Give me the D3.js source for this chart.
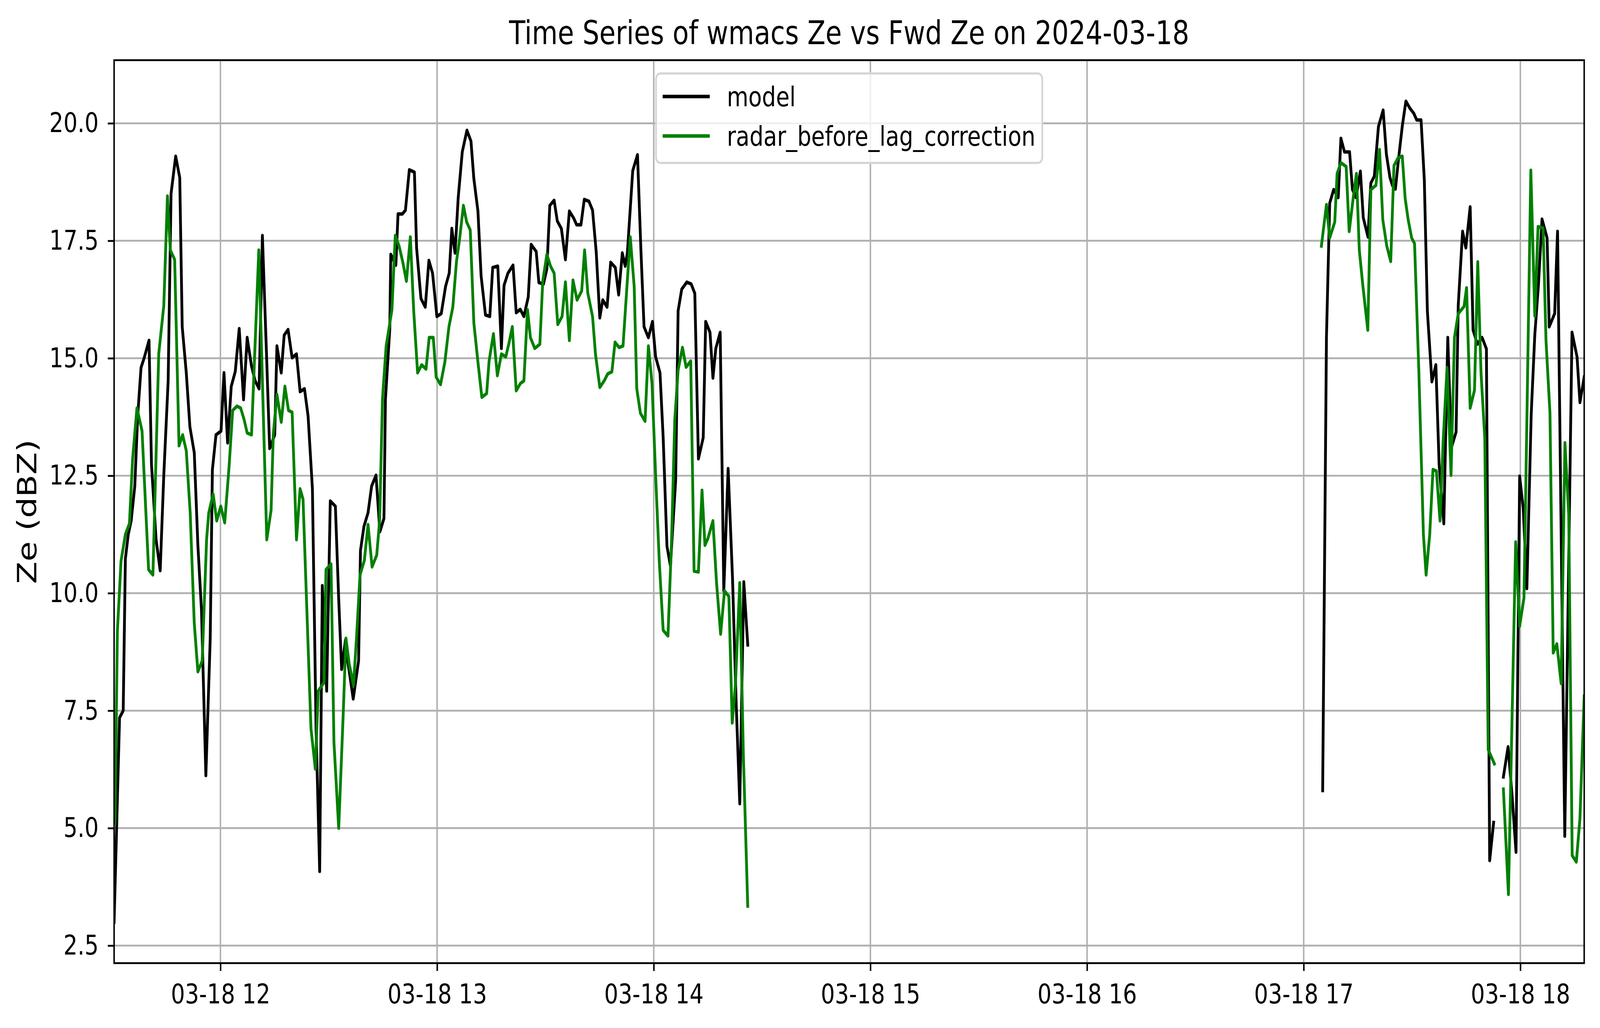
<!DOCTYPE html>
<html>
<head>
<meta charset="utf-8">
<script src="https://cdn.jsdelivr.net/npm/d3@7"></script>
<style>
  html, body { margin: 0; padding: 0; background: #fff; overflow: hidden; width: 100%; height: 100%; }
  #graf { width: 100vw; height: 100vh; }
  #graf svg { display: block; width: 100%; height: 100%; }
  text { font-family: 'DejaVu Sans', sans-serif; fill: #000; }
</style>
</head>
<body>
<div id="graf"></div>
<script>
// I. Datos (minutos desde las 12:00 del 2024-03-18, Ze en dBZ; null = hueco)
const modelMin = [
  -29.45, -27.94, -26.93, -26.33, -25.53, -24.72, -23.72, -22.92, -21.99, -21.11,
  -19.78, -19.1, -17.82, -16.69, -15.69, -14.48, -13.68, -12.4, -11.27, -10.59,
  -9.46, -8.46, -7.25, -6.25, -5.25, -4.04, -2.84, -2.23, -1.23, 0.17,
  0.98, 1.98, 2.99, 4.11, 5.2, 6.4, 7.4, 8.61, 9.61, 10.7,
  11.62, 12.83, 13.63, 15.03, 15.64, 16.84, 17.65, 18.73, 19.85, 21.06,
  22.06, 23.27, 24.27, 25.47, 26.48, 27.48, 28.21, 29.42, 30.42, 31.83,
  32.75, 33.56, 34.64, 35.24, 36.77, 38.26, 38.78, 39.74, 40.87, 41.87,
  43.08, 44.16, 45.28, 45.69, 46.89, 47.17, 48.58, 49.18, 50.38, 51.23,
  52.31, 53.72, 54.32, 55.53, 56.73, 57.73, 58.74, 59.94, 61.15, 62.35,
  63.36, 64.08, 64.96, 65.85, 66.97, 68.26, 69.38, 70.18, 71.31, 72.19,
  73.4, 74.6, 75.4, 76.81, 77.81, 78.54, 79.62, 81.03, 81.91, 83.04,
  84.04, 85.24, 86.05, 87.45, 88.18, 89.46, 90.4, 91.21, 92.41, 93.29,
  94.42, 95.54, 96.63, 97.83, 98.64, 99.84, 100.76, 102.05, 103.05, 104.06,
  105.06, 105.87, 107.07, 108.07, 109.36, 110.28, 111.29, 112.09, 112.69, 114.18,
  115.5, 116.43, 117.31, 118.52, 119.64, 120.52, 121.73, 122.61, 123.66, 124.62,
  126.07, 126.75, 127.75, 129.16, 130.36, 131.37, 132.37, 133.7, 134.38, 135.58,
  136.39, 137.19, 138.4, 139.4, 140.6, 141.81, 142.81, 143.82, 144.94, 146.03,
  200,
  305.25, 306.3, 307.2, 308.3, 309.56, 310.3, 311.3, 312.7, 313.5, 314.5,
  315.7, 316.5, 317.8, 318.6, 319.55, 320.7, 322.0, 322.9, 323.9, 324.6,
  325.4, 326.2, 327.3, 328.3, 329.4, 330.5, 331.3, 332.5, 333.4, 334.25,
  335.5, 336.6, 337.5, 338.8, 339.9, 340.9, 342.2, 342.8, 344.0, 344.9,
  346.1, 346.9, 348.1, 349.4, 350.6, 351.5, 352.6,
  354,
  355.3, 356.6, 357.7, 358.8, 359.8, 360.8, 361.8, 363.0, 364.0, 365.0,
  366.0, 367.4, 368.0, 369.5, 370.3, 372.3, 374.3, 375.7, 376.5, 377.68
]
const modelZe = [
  3.0, 7.35, 7.5, 10.73, 11.25, 11.54, 12.28, 13.77, 14.8, 15.01,
  15.38, 12.74, 11.14, 10.48, 12.51, 14.52, 18.5, 19.3, 18.84, 15.67,
  14.69, 13.54, 12.99, 11.02, 9.64, 6.12, 9.01, 12.63, 13.37, 13.45,
  14.69, 13.2, 14.4, 14.72, 15.63, 14.12, 15.44, 14.83, 14.52, 14.35,
  17.61, 14.92, 13.08, 13.37, 15.26, 14.69, 15.49, 15.61, 15.01, 15.09,
  14.29, 14.35, 13.77, 12.22, 7.12, 4.08, 10.16, 7.92, 11.96, 11.85,
  9.87, 8.38, 9.01, 8.56, 7.75, 8.56, 10.91, 11.42, 11.71, 12.28,
  12.51, 11.31, 11.59, 14.12, 15.61, 17.21, 16.98, 18.07, 18.07, 18.15,
  19.01, 18.96, 17.35, 16.27, 16.09, 17.08, 16.81, 15.89, 15.95, 16.53,
  16.81, 17.76, 17.24, 18.42, 19.39, 19.85, 19.62, 18.82, 18.13, 16.75,
  15.92, 15.89, 16.93, 16.96, 15.21, 16.55, 16.81, 16.98, 15.97, 16.04,
  15.89, 16.3, 17.42, 17.27, 16.61, 16.58, 16.9, 18.25, 18.36, 17.92,
  17.76, 17.1, 18.13, 17.98, 17.84, 17.84, 18.38, 18.34, 18.15, 17.27,
  15.86, 16.24, 16.09, 17.04, 16.93, 16.35, 17.24, 16.96, 17.24, 18.99,
  19.33, 17.33, 15.67, 15.44, 15.78, 15.03, 14.69, 13.31, 11.0, 10.58,
  12.4, 16.01, 16.47, 16.62, 16.58, 16.38, 12.86, 13.31, 15.78, 15.55,
  14.58, 15.21, 15.55, 10.05, 12.65, 10.33, 7.7, 5.52, 10.24, 8.9,
  null,
  5.8, 15.44, 18.3, 18.59, 18.42, 19.68, 19.39, 19.39, 18.59, 18.42,
  18.98, 17.99, 17.58, 18.73, 18.87, 19.93, 20.28, 19.34, 18.84, 18.67,
  18.6, 19.2, 19.94, 20.47, 20.32, 20.21, 20.07, 20.07, 18.8, 16.0,
  14.5, 14.86, 12.74, 11.48, 15.44, 13.1, 13.43, 16.13, 17.7, 17.35,
  18.22, 15.6, 15.3, 15.44, 15.2, 4.31, 5.12,
  null,
  6.09, 6.73, 5.7, 4.49, 12.49, 11.8, 10.1, 13.8, 15.5, 16.55,
  17.96, 17.56, 15.67, 15.95, 17.7, 4.83, 15.55, 15.03, 14.06, 14.6
]

const radarMin = [
  -29.2, -28.54, -27.54, -26.33, -25.21, -24.32, -23.12, -21.71, -19.9, -18.7,
  -17.09, -15.69, -14.68, -13.88, -12.68, -11.47, -10.47, -9.46, -8.38, -7.25,
  -6.25, -5.05, -3.84, -3.24, -2.03, -1.03, 0.09, 1.18, 2.38, 3.39,
  4.59, 5.6, 6.6, 7.4, 8.61, 10.62, 12.83, 14.03, 14.63, 15.64,
  16.84, 17.85, 18.85, 19.85, 21.06, 22.06, 22.87, 25.07, 26.28, 27.08,
  28.69, 29.22, 30.63, 31.43, 32.75, 33.96, 34.76, 35.65, 36.85, 37.65,
  38.66, 39.86, 40.87, 41.99, 43.28, 44.08, 44.88, 45.89, 47.49, 48.42,
  49.5, 50.51, 51.51, 52.59, 53.52, 54.6, 55.73, 56.93, 57.81, 58.94,
  59.74, 60.95, 62.15, 63.28, 64.36, 65.37, 66.17, 67.29, 68.18, 69.18,
  70.18, 71.31, 72.39, 73.72, 74.4, 75.6, 76.69, 77.81, 79.02, 79.9,
  80.83, 81.91, 83.04, 84.04, 85.04, 85.85, 87.05, 88.46, 89.26, 90.4,
  91.41, 92.41, 93.42, 94.62, 95.54, 96.63, 97.63, 98.76, 100.04, 100.85,
  101.73, 103.05, 103.86, 105.06, 106.27, 107.27, 108.4, 109.28, 110.4, 111.49,
  112.49, 113.5, 114.58, 115.3, 116.31, 117.59, 118.52, 119.52, 120.52, 121.53,
  122.61, 123.94, 124.94, 125.82, 126.75, 127.95, 128.96, 130.24, 131.17, 132.37,
  133.37, 134.18, 134.98, 136.39, 137.39, 138.52, 139.6, 140.8, 141.73, 142.61,
  143.82, 144.82, 146.03,
  200,
  304.9, 306.3, 307.2, 308.6, 309.25, 310.3, 311.75, 312.6, 313.8, 314.6,
  315.4, 316.4, 317.75, 318.6, 320.0, 321.0, 321.9, 323.0, 324.1, 325.0,
  326.1, 327.3, 328.1, 328.95, 329.9, 330.7, 331.1, 331.9, 333.15, 333.9,
  334.9, 335.8, 336.75, 337.75, 338.6, 339.7, 340.8, 341.75, 342.8, 344.4,
  345.1, 346.1, 347.3, 348.2, 349.1, 350.15, 351.1, 352.8,
  354,
  355.3, 356.7, 358.7, 359.8, 361.0, 361.8, 362.9, 364.0, 364.9, 366.3,
  367.1, 368.2, 369.1, 370.1, 371.3, 372.35, 373.4, 374.35, 375.5, 376.5,
  377.68
]
const radarZe = [
  5.11, 9.19, 10.68, 11.25, 11.48, 12.86, 13.94, 13.45, 10.5, 10.39,
  15.09, 16.12, 18.45, 17.3, 17.1, 13.14, 13.37, 13.03, 11.71, 9.36,
  8.33, 8.56, 11.14, 11.71, 12.11, 11.54, 11.85, 11.5, 12.68, 13.89,
  13.98, 13.94, 13.68, 13.41, 13.37, 17.3, 11.14, 11.77, 13.37, 14.23,
  13.64, 14.4, 13.89, 13.85, 11.14, 12.22, 12.0, 7.12, 6.26, 7.92,
  8.1, 10.5, 10.62, 6.83, 5.0, 7.35, 9.04, 8.5, 8.04, 9.01,
  10.39, 10.7, 11.46, 10.56, 10.81, 11.54, 14.14, 15.26, 16.03, 17.61,
  17.38, 17.04, 16.64, 17.58, 16.01, 14.69, 14.86, 14.77, 15.44, 15.44,
  14.6, 14.44, 14.92, 15.67, 16.09, 17.06, 17.5, 18.25, 17.9, 17.73,
  15.75, 14.92, 14.17, 14.25, 14.94, 15.52, 14.63, 15.09, 15.03, 15.32,
  15.67, 14.31, 14.46, 14.52, 16.03, 15.44, 15.21, 15.3, 16.64, 17.21,
  16.96, 16.81, 15.72, 15.89, 16.62, 15.38, 16.66, 16.24, 16.43, 17.3,
  16.39, 15.89, 15.09, 14.38, 14.52, 14.67, 14.71, 15.34, 15.23, 15.26,
  16.43, 17.58, 16.53, 14.35, 13.83, 13.66, 15.26, 14.46, 12.51, 10.68,
  9.21, 9.09, 11.14, 13.68, 14.75, 15.23, 14.81, 14.94, 10.47, 10.45,
  12.19, 11.02, 11.16, 11.54, 10.22, 9.13, 10.05, 9.93, 7.24, 8.04,
  10.22, 6.55, 3.34,
  null,
  17.39, 18.27, 17.56, 17.9, 18.93, 19.16, 19.08, 17.7, 18.47, 18.93,
  17.3, 16.53, 15.6, 18.59, 18.68, 19.44, 17.95, 17.39, 17.06, 19.1,
  19.26, 19.3, 18.4, 17.94, 17.56, 17.44, 16.53, 14.69, 11.25, 10.39,
  11.25, 12.63, 12.6, 11.54, 13.2, 14.8, 12.51, 15.44, 15.95, 16.1,
  16.5, 13.94, 14.32, 17.05, 14.7, 13.3, 6.67, 6.37,
  null,
  5.83, 3.59, 11.09, 9.3, 9.9, 13.66, 19.0, 15.9, 17.8, 17.77,
  15.38, 13.83, 8.73, 8.92, 8.08, 13.2, 11.67, 4.42, 4.28, 5.2,
  7.81
]

const yTicks = [2.5, 5.0, 7.5, 10.0, 12.5, 15.0, 17.5, 20.0]
const titulo = 'Time Series of wmacs Ze vs Fwd Ze on 2024-03-18'
const etiquetaY = 'Ze (dBZ)'

// II. Configuración (unidades del viewBox = píxeles de la imagen de referencia;
//     el svg se estira a la ventana para llenar la foto)
const ancho_total = 5062
const alto_total = 2631
const margins = { top: 154, left: 361, right: 50, bottom: 166 }
const ancho = ancho_total - margins.left - margins.right
const alto = alto_total - margins.top - margins.bottom

const base = new Date(2024, 2, 18, 12, 0, 0)
const toDate = m => new Date(base.getTime() + m * 60000)

const series = [
  { nombre: 'model', color: '#000000', datos: modelMin.map((m, i) => ({ t: toDate(m), v: modelZe[i] })) },
  { nombre: 'radar_before_lag_correction', color: '#008000', datos: radarMin.map((m, i) => ({ t: toDate(m), v: radarZe[i] })) }
]

const svg = d3.select('#graf').append('svg')
    .attr('viewBox', `0 0 ${ancho_total} ${alto_total}`)
    .attr('preserveAspectRatio', 'none')

svg.append('rect')
    .attr('width', ancho_total).attr('height', alto_total)
    .attr('fill', '#fff')

const g = svg.append('g')
    .attr('transform', `translate(${margins.left}, ${margins.top})`)

// escalas
const todos = series.flatMap(s => s.datos).filter(d => d.v != null)
const x = d3.scaleTime()
    .domain(d3.extent(todos, d => d.t))
    .range([0, ancho])

const [vmin, vmax] = d3.extent(todos, d => d.v)
const pad = (vmax - vmin) * 0.05
const y = d3.scaleLinear()
    .domain([vmin - pad, vmax + pad])
    .range([alto, 0])

const xTicks = x.ticks(d3.timeHour.every(1))

// rejilla
g.append('g').selectAll('line').data(xTicks).join('line')
    .attr('x1', d => x(d)).attr('x2', d => x(d))
    .attr('y1', 0).attr('y2', alto)
    .attr('stroke', '#b0b0b0').attr('stroke-width', 4.7)
g.append('g').selectAll('line').data(yTicks).join('line')
    .attr('x1', 0).attr('x2', ancho)
    .attr('y1', d => y(d)).attr('y2', d => y(d))
    .attr('stroke', '#b0b0b0').attr('stroke-width', 4.7)

// líneas
svg.append('clipPath').attr('id', 'recorte')
  .append('rect').attr('width', ancho).attr('height', alto)

const linea = d3.line()
    .defined(d => d.v != null)
    .x(d => x(d.t))
    .y(d => y(d.v))

g.append('g').attr('clip-path', 'url(#recorte)')
  .selectAll('path').data(series).join('path')
    .attr('d', d => linea(d.datos))
    .attr('fill', 'none')
    .attr('stroke', d => d.color)
    .attr('stroke-width', 8.8)
    .attr('stroke-linejoin', 'round')
    .attr('stroke-linecap', 'square')

// ejes
const xAxisGroup = g.append('g')
    .attr('transform', `translate(0, ${alto})`)
    .call(d3.axisBottom(x)
        .tickValues(xTicks)
        .tickFormat(d3.timeFormat('%m-%d %H'))
        .tickSize(20).tickSizeOuter(0).tickPadding(33))
const yAxisGroup = g.append('g')
    .call(d3.axisLeft(y)
        .tickValues(yTicks)
        .tickFormat(d3.format('.1f'))
        .tickSize(20).tickSizeOuter(0).tickPadding(29))

for (const eje of [xAxisGroup, yAxisGroup]) {
  eje.select('.domain').remove()
  eje.selectAll('line').attr('stroke', '#000').attr('stroke-width', 4.7)
  eje.selectAll('text')
      .style('font-family', "'DejaVu Sans', sans-serif")
      .style('font-size', '70px')
      .attr('fill', '#000')
}

// marco
g.append('rect')
    .attr('width', ancho).attr('height', alto)
    .attr('fill', 'none')
    .attr('stroke', '#000').attr('stroke-width', 4.7)

// títulos
svg.append('text')
    .attr('x', margins.left + ancho / 2).attr('y', 113)
    .attr('text-anchor', 'middle')
    .style('font-size', '84px')
    .text(titulo)

svg.append('text')
    .attr('transform', `translate(115, ${margins.top + alto / 2}) rotate(-90)`)
    .attr('text-anchor', 'middle')
    .style('font-size', '84px')
    .text(etiquetaY)

// leyenda (upper center)
const legW = 1222, legH = 229
const leyenda = g.append('g')
    .attr('transform', `translate(${ancho / 2 - legW / 2}, 34)`)
leyenda.append('rect')
    .attr('width', legW).attr('height', legH)
    .attr('rx', 14)
    .attr('fill', 'rgba(255,255,255,0.8)')
    .attr('stroke', '#d5d5d5').attr('stroke-width', 5.5)

const item = leyenda.selectAll('g.item').data(series).join('g')
    .attr('class', 'item')
    .attr('transform', (d, i) => `translate(0, ${59 + i * 101})`)
item.append('line')
    .attr('x1', 21).attr('x2', 170)
    .attr('stroke', d => d.color).attr('stroke-width', 8.8)
item.append('text')
    .attr('x', 224).attr('y', 25)
    .style('font-size', '70px')
    .text(d => d.nombre)
</script>
</body>
</html>
